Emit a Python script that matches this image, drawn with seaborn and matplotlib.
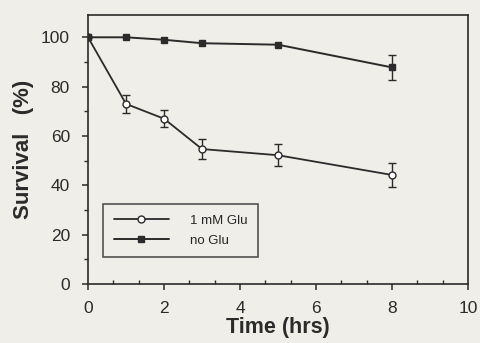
import numpy as np
import pandas as pd
import matplotlib
matplotlib.use("Agg")
import matplotlib.pyplot as plt
import seaborn as sns
from matplotlib.ticker import MultipleLocator

# data
time_glu = [0, 1, 2, 3, 5, 8]
surv_glu = [100, 73, 67, 54.7, 52.2, 44.2]
err_glu = [0, 3.5, 3.5, 4, 4.5, 5]

time_noglu = [0, 1, 2, 3, 5, 8]
surv_noglu = [100, 100, 99, 97.6, 97, 87.8]
err_noglu = [0, 0, 0, 0, 0, 5]

series_names = ["1 mM Glu", "no Glu"]

df = pd.concat([
    pd.DataFrame({"Time": time_glu, "Survival": surv_glu, "err": err_glu,
                  "group": series_names[0]}),
    pd.DataFrame({"Time": time_noglu, "Survival": surv_noglu, "err": err_noglu,
                  "group": series_names[1]}),
])

sns.set_style("ticks")
plt.rcParams["font.family"] = ["Liberation Sans", "DejaVu Sans"]

paper = "#efeee8"
ink = "#2b2b2b"

fig = plt.figure(figsize=(4.81, 3.43), dpi=100, facecolor=paper)
ax = fig.add_axes([0.183, 0.172, 0.790, 0.784])
ax.set_facecolor(paper)

styles = {
    series_names[0]: dict(marker="o", mfc="white", ms=5, lw=1.3),
    series_names[1]: dict(marker="s", mfc=ink, ms=5, lw=1.4),
}

for name, sub in df.groupby("group", sort=False):
    st = styles[name]
    sns.lineplot(data=sub, x="Time", y="Survival", ax=ax, color=ink,
                 marker=st["marker"], markersize=st["ms"],
                 markerfacecolor=st["mfc"], markeredgecolor=ink,
                 markeredgewidth=1.0, linewidth=st["lw"], label=name,
                 errorbar=None)
    m = sub["err"] > 0
    ax.errorbar(sub["Time"][m], sub["Survival"][m], yerr=sub["err"][m],
                fmt="none", ecolor=ink, elinewidth=1.0, capsize=3,
                capthick=1.0, zorder=1)

ax.set_xlim(0, 10)
ax.set_ylim(0, 109)
ax.xaxis.set_major_locator(MultipleLocator(2))
ax.xaxis.set_minor_locator(MultipleLocator(2 / 3))
ax.yaxis.set_major_locator(MultipleLocator(20))
ax.yaxis.set_minor_locator(MultipleLocator(10))

for s in ax.spines.values():
    s.set_color(ink)
    s.set_linewidth(1.2)

ax.tick_params(axis="both", which="major", direction="out", length=4,
               width=1.1, colors=ink, labelsize=12.5)
ax.tick_params(axis="x", which="major", pad=8)
ax.tick_params(axis="y", which="major", pad=9)
ax.tick_params(axis="x", which="minor", direction="in", length=3,
               width=1.0, colors=ink)
ax.tick_params(axis="y", which="minor", direction="out", length=3,
               width=1.0, colors=ink)

ax.set_xlabel("Time (hrs)", fontsize=15.5, fontweight="bold", color=ink,
              labelpad=1)
ax.set_ylabel("Survival   (%)", fontsize=16, fontweight="bold", color=ink,
              labelpad=5)

leg = ax.legend(loc="lower left", bbox_to_anchor=(0.04, 0.10),
                frameon=True, fancybox=False, fontsize=9.5, handlelength=4.2,
                borderpad=0.8, labelspacing=0.55, handletextpad=1.6,
                borderaxespad=0)
leg.get_frame().set_edgecolor(ink)
leg.get_frame().set_linewidth(1.2)
leg.get_frame().set_facecolor(paper)

fig.savefig("out.png", dpi=100, facecolor=paper)
